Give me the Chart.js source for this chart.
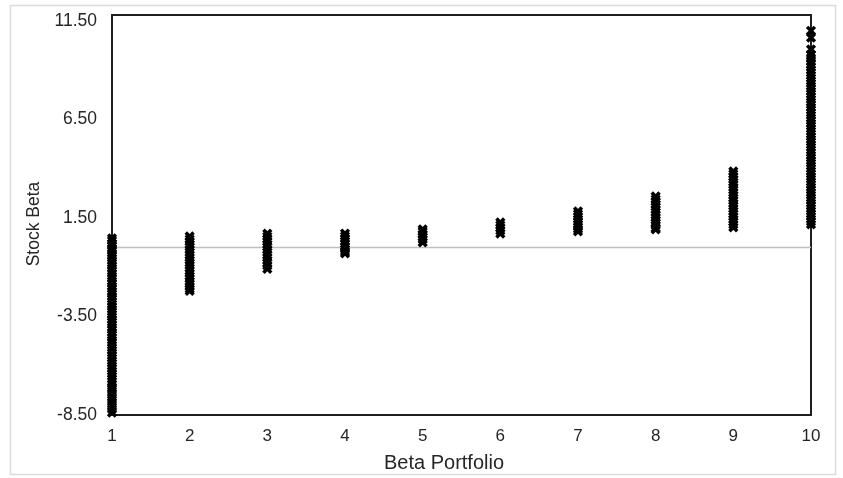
<!doctype html>
<html lang="en">
<head>
  <meta charset="utf-8" />
  <title>Stock Beta by Beta Portfolio</title>
  <style>
    body { margin: 0; background: #fff; }
    #canva { width: 843px; height: 478px; }
  </style>
</head>
<body>
<div id="canva"><canvas id="myChart" width="843" height="478"></canvas></div>
<script src="https://cdn.jsdelivr.net/npm/chart.js@4.4.1/dist/chart.umd.min.js"></script>

<script>
// x categories (portfolio number) and y axis tick labels
var portfolios = [1, 2, 3, 4, 5, 6, 7, 8, 9, 10];
var yTicks = [-8.5, -3.5, 1.5, 6.5, 11.5];
var refLineY = 0;
var xTitle = 'Beta Portfolio';
var yTitle = 'Stock Beta';

// stock betas, one array per portfolio
var beta1 = [0.46, 0.35, 0.21, 0.1, -0.04, -0.15, -0.29, -0.41, -0.53, -0.68, -0.79, -0.92, -1.06, -1.18, -1.3,
  -1.45, -1.57, -1.7, -1.83, -1.97, -2.08, -2.22, -2.35, -2.49, -2.6, -2.74, -2.88, -3.0, -3.13, -3.27, -3.39,
  -3.52, -3.66, -3.78, -3.91, -4.05, -4.17, -4.31, -4.44, -4.56, -4.7, -4.83, -4.95, -5.09, -5.22, -5.35, -5.48,
  -5.61, -5.75, -5.87, -6.01, -6.14, -6.27, -6.4, -6.53, -6.67, -6.8, -6.93, -7.12, -7.3, -7.47, -7.66, -7.85,
  -8.02, -8.2, -8.38];
var beta2 = [0.56, 0.43, 0.3, 0.16, 0.03, -0.11, -0.24, -0.38, -0.51, -0.64, -0.78, -0.91, -1.05, -1.18, -1.31,
  -1.45, -1.58, -1.72, -1.85, -1.98, -2.1, -2.2];
var beta3 = [0.7, 0.57, 0.43, 0.3, 0.16, 0.03, -0.11, -0.24, -0.38, -0.51, -0.65, -0.78, -0.92, -1.08];
var beta4 = [0.71, 0.58, 0.45, 0.32, 0.19, 0.05, -0.08, -0.2, -0.3];
var beta5 = [0.92, 0.8, 0.67, 0.54, 0.41, 0.26];
var beta6 = [1.27, 1.14, 1.0, 0.86, 0.71];
var beta7 = [1.83, 1.7, 1.57, 1.44, 1.31, 1.18, 1.05, 0.93, 0.82];
var beta8 = [2.59, 2.46, 2.33, 2.19, 2.06, 1.92, 1.79, 1.65, 1.52, 1.39, 1.25, 1.12, 0.99, 0.92];
var beta9 = [3.86, 3.73, 3.59, 3.46, 3.32, 3.19, 3.05, 2.92, 2.78, 2.65, 2.51, 2.38, 2.24, 2.11, 1.97, 1.84,
  1.7, 1.57, 1.43, 1.3, 1.16, 1.02];
var beta10 = [11.0, 10.65, 10.05, 9.8, 9.62, 9.45, 9.3, 9.15, 9.0, 8.87, 8.73, 8.6, 8.46, 8.33, 8.19, 8.06,
  7.92, 7.79, 7.65, 7.52, 7.38, 7.25, 7.11, 6.98, 6.84, 6.71, 6.57, 6.44, 6.3, 6.17, 6.03, 5.9, 5.76, 5.63,
  5.49, 5.36, 5.22, 5.09, 4.95, 4.82, 4.68, 4.55, 4.41, 4.28, 4.14, 4.01, 3.87, 3.74, 3.6, 3.47, 3.33, 3.2,
  3.06, 2.93, 2.79, 2.66, 2.52, 2.39, 2.25, 2.12, 1.98, 1.85, 1.71, 1.58, 1.44, 1.31, 1.17];
var betas = [beta1, beta2, beta3, beta4, beta5, beta6, beta7, beta8, beta9, beta10];
</script>

<script>
function Make_Points() {
  var pts = [];
  for (let i = 0; i < portfolios.length; i++) {
    for (let j = 0; j < betas[i].length; j++) {
      pts.push({x: portfolios[i], y: betas[i][j]});
    }
  }
  return pts;
}

var textColor = '#262626';
var fontName = "'Liberation Sans', Arial, sans-serif";

// light outer frame, dark box round the plot, axis titles
const framePlugin = {
  id: 'frame',
  beforeDraw(chart) {
    const c = chart.ctx;
    c.save();
    c.fillStyle = '#fff';
    c.fillRect(0, 0, chart.width, chart.height);
    c.strokeStyle = '#dcdcdc';
    c.lineWidth = 1.5;
    c.strokeRect(10.5, 5.5, 825, 469);
    c.restore();
  },
  beforeDatasetsDraw(chart) {
    const a = chart.chartArea;
    const c = chart.ctx;
    c.save();
    c.strokeStyle = '#1f1f1f';
    c.lineWidth = 2;
    c.strokeRect(a.left, a.top, a.right - a.left, a.bottom - a.top);
    c.restore();
  },
  afterDraw(chart) {
    const c = chart.ctx;
    c.save();
    c.fillStyle = textColor;
    c.textAlign = 'center';
    c.textBaseline = 'middle';
    c.font = '20px ' + fontName;
    c.fillText(xTitle, 444, 463);
    c.translate(34, 224);
    c.rotate(-Math.PI / 2);
    c.font = '17.5px ' + fontName;
    c.fillText(yTitle, 0, 0);
    c.restore();
  }
};

const ctx = document.getElementById('myChart');
const myChart = new Chart(ctx, {
  type: 'scatter',
  data: {
    datasets: [{
      label: 'Stock Beta',
      data: Make_Points(),
      pointStyle: 'crossRot',
      pointRadius: 5.5,
      pointHoverRadius: 5.5,
      borderColor: '#000',
      backgroundColor: '#000',
      pointBorderWidth: 3.5,
      clip: false,
      order: 1
    }, {
      type: 'line',
      label: 'zero',
      data: [{x: portfolios[0], y: refLineY}, {x: portfolios[portfolios.length - 1], y: refLineY}],
      borderColor: '#bfbfbf',
      borderWidth: 1.5,
      pointRadius: 0,
      order: 2
    }]
  },
  options: {
    responsive: false,
    animation: false,
    devicePixelRatio: 1,
    layout: { padding: { left: 10, right: 32, top: 15, bottom: 0 } },
    plugins: {
      legend: { display: false },
      tooltip: { enabled: false }
    },
    scales: {
      x: {
        type: 'linear',
        min: 1,
        max: 10,
        grid: { display: false, drawTicks: false },
        border: { display: false },
        ticks: {
          stepSize: 1,
          padding: 11,
          color: textColor,
          font: { family: fontName, size: 17 }
        },
        title: { display: false },
        afterFit: function (scale) { scale.height = 63; }
      },
      y: {
        type: 'linear',
        min: -8.5,
        max: 11.8,
        grid: { display: false, drawTicks: false },
        border: { display: false },
        afterBuildTicks: function (scale) {
          scale.ticks = yTicks.map(function (v) { return {value: v}; });
        },
        ticks: {
          padding: 15,
          color: textColor,
          font: { family: fontName, size: 17.5 },
          callback: function (v) { return Number(v).toFixed(2); }
        },
        title: { display: false },
        afterFit: function (scale) {
          scale.width = 102;
          scale.paddingTop = 0;
          scale.paddingBottom = 0;
        }
      }
    }
  },
  plugins: [framePlugin]
});
</script>

</body>
</html>
